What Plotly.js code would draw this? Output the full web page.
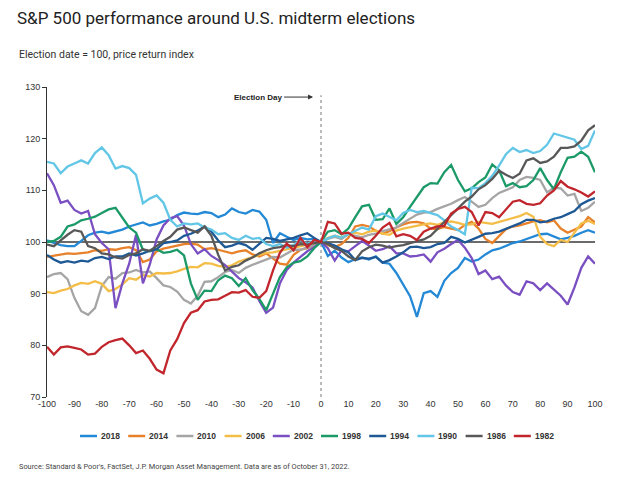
<!DOCTYPE html>
<html><head><meta charset="utf-8">
<script src="https://cdn.plot.ly/plotly-3.0.1.min.js"></script>
<style>html,body{margin:0;padding:0;background:#fff;} #chart{width:630px;height:481px;}</style>
</head><body><div id="chart"></div>
<script>
// Trading days relative to election day
const days = [-100,-97.5,-95,-92.5,-90,-87.5,-85,-82.5,-80,-77.5,-75,-72.5,-70,-67.5,-65,-62.5,-60,-57.5,-55,-52.5,-50,-47.5,-45,-42.5,-40,-37.5,-35,-32.5,-30,-27.5,-25,-22.5,-20,-17.5,-15,-12.5,-10,-7.5,-5,-2.5,0,
  2.5,5,7.5,10,12.5,15,17.5,20,22.5,25,27.5,30,32.5,35,37.5,40,42.5,45,47.5,50,52.5,55,57.5,60,62.5,65,67.5,70,72.5,75,77.5,80,82.5,85,87.5,90,92.5,95,97.5,100];

const years = ['2018','2014','2010','2006','2002','1998','1994','1990','1986','1982'];
const colors = ['#2389D6','#E8822A','#A5A5A5','#F4BD48','#7A4FC1','#1B9A68','#1E5996','#62C6E6','#585858','#C1262C'];

const s2018 = [100.3,99.8,99.4,99.2,99.2,100.2,101.3,101.8,102,101.7,102,102.4,103,103.4,103.8,103.2,103.5,104,104.3,105.2,105.7,105.5,105.4,105.8,105.6,104.8,105.3,106.5,105.8,105.5,106.2,105.9,104.3,99.8,101.7,101,100.4,100.8,100.5,100.6,100,
  97.3,98.3,97,96.1,96.7,97,96.6,97.2,96,95.8,94,91.8,89.5,85.5,90.1,90.5,89.4,92.5,94,95,96.9,96.2,96.6,97.6,98.4,98.7,99.2,99.8,100.1,100.6,101,101.5,101.6,101,100.5,100.8,101.2,101.8,102.3,101.8];
const s2014 = [97.1,97.3,97.5,97.8,97.7,97.9,98,98.4,98.3,98.6,98.5,98.8,99,98.4,96.1,96.6,98.2,98.7,99,99.2,99.6,99.7,99.5,98.6,98.8,98.5,98.2,97.8,98.2,98.4,97.6,97.2,97.8,96.8,95.8,95.6,97.5,98.5,98.8,99.4,100,
  99.4,99,99.6,100.8,103,103.3,103,102.2,101.6,102.1,102.8,103.4,103.8,103.9,103.6,102.6,102.5,102.9,102.6,102.3,103.3,103.9,102.6,100.6,99.8,101.2,102.5,103,103.2,103.6,104,104.2,103.8,104.2,102.6,101.8,102.4,103,104.8,103.8];
const s2010 = [93.2,93.8,94,92.8,89.2,86.6,85.9,87.2,91.5,93.2,92.9,94,94.1,94.6,94.1,94.3,93,91.6,91.3,90.4,88.8,88.1,89.6,92.3,92.4,93.2,94.2,94.6,94,95,95.6,96.1,96.5,97.1,97,97.8,98.5,98.5,98.9,99.4,100,
  100.6,101,100.6,101.5,101.2,100.9,101.4,101.6,102.1,102.5,102.8,103.7,104.5,105.3,105.7,105.8,106.4,106.9,107.4,108.1,108.7,107.8,106.8,107.2,108.5,109.5,110,110.6,112,112.6,112.4,112,109.6,110.5,110.4,109,109.3,106,106.6,107.8];
const s2006 = [90.3,90.1,90.6,90.9,91.6,92.1,91.9,92.4,91.9,90.5,90.9,91.8,93,92.7,93.6,93.3,94,93.9,94,94.3,94.8,95.2,95.1,95.9,95.8,95.4,95.2,95.5,96.2,96.7,97.1,97.5,97.9,98,98.3,98.7,99,99.2,99.6,99.8,100,
  100.8,101.2,100.9,101.4,101.8,101.5,102,102.2,101.6,101.4,102.2,102.6,102.9,103.1,103.4,103.6,103.3,103.8,104,103.7,103.3,103.4,103.9,103.7,103.5,103.9,104.3,104.6,105,105.6,104.9,101,99.6,99.2,100.4,100,101.9,103.6,104.1,103.5];
const s2002 = [113.3,111,107.6,108,106.2,105.5,106,101.5,99.8,98.6,87.2,92,95.8,101.4,92,95.6,100.5,103.2,104.6,105,103.2,99.6,97.8,98.6,97.3,96.5,95.5,94.2,93,92.2,91.2,88.6,86.3,87.3,92,94.6,96,97.1,98.2,99,100,
  98.8,96.4,98.4,98.2,99.2,100.2,99.3,98.3,98.6,99.2,97.8,97.8,97.2,97.3,97.6,96.2,98,98.7,99.6,100.4,98.9,96.9,93.8,94.5,92.8,93.3,91.6,90.3,89.8,92.4,92,90.7,92,90.8,89.6,87.9,91.2,95,97.2,95.8];
const s1998 = [100,100.2,101,103,103.4,104.2,104.5,104.9,105.6,106.3,106.6,104.6,102.8,101.8,98.5,98.2,98.6,97.9,98.1,98.5,97.4,92,88.8,90.6,90.5,92.6,93.5,93,91.5,93,90.7,89,86.8,90,93.2,95.1,96,96.3,97.2,98.8,100,
  102,102.3,101.5,102.6,104.8,106.9,107.2,104.3,104.4,106.5,103.5,104.8,106.8,108.7,110.6,111.4,111.3,113.5,114.9,112,109.8,110.4,111.6,112.5,115,113.9,110.8,111.4,110.6,110.8,112,114.3,112,110.2,113.5,116.3,116.5,117.5,116.5,113.5];
const s1994 = [97.5,96.6,96,96.3,96,96.4,96.2,96.9,97.1,96.7,97.2,97.2,97.8,97.4,97.8,98.3,98.6,99.8,100,100.3,101.2,101.6,102.2,103,102,100.3,99,99.3,99.8,99.4,98.5,99.6,100.8,100.6,100.2,100.5,100.8,101.3,101.7,100.8,100,
  99.8,99.3,98.6,98,96.5,96.9,96.8,97.1,96,96.5,97.2,98,99,99.1,98.8,99,99.6,99.8,101,100.6,99.9,100.4,101,101.6,101.7,102,102.5,103,103.6,104.3,104.3,103.8,104,104.5,104.8,105.4,106,107.3,108,108.5];
const s1990 = [115.5,115.2,113.3,114.6,115.2,115.8,115.2,117.2,118.3,116.8,114.2,114.7,114.3,113,107.5,108.4,109,107.6,104.3,103,103.6,103.4,103.6,102.8,102.4,101.5,101.7,100.8,100.4,101.2,100.6,100.8,99.6,99.2,99.6,98.9,99.4,100.4,99.6,100.2,100,
  100.7,101.2,100.8,101.5,102.2,102.8,102.4,105,105.5,104.8,104.2,105.6,106.2,105.8,106,105.6,105.2,104.2,103,102.3,101.5,110.5,110.4,111.4,112.8,114.8,117,118.2,117.4,117.8,117.2,117.6,118.8,121,120.6,120.3,119.8,118,118.6,121.6];
const s1986 = [99.5,99.2,100.3,101.4,102.3,102,99.2,98.8,97.8,97.6,97,96.8,97.5,97.8,98.6,98.3,99.2,100.2,101,102.4,102.8,102.3,101.8,103,101.2,97.5,94.5,95.2,95.5,96.4,97,97.8,98.4,98.8,99,99.4,99.2,99.6,99.5,99.8,100,
  99.6,98.8,98.3,97.2,96.5,98.2,99,99.5,99.3,98.9,99.2,99.4,99.8,100.1,100.5,101.2,102.6,104,105.2,106.5,107.8,108.8,110.2,111,112.2,113.8,113,112.4,113.2,115.8,116.2,115.3,115.6,116.5,118.2,118.2,118.5,119.6,121.6,122.6];
const s1982 = [79.7,78.2,79.6,79.8,79.5,79.2,78.2,78.4,79.7,80.6,81,81.3,80,78.5,79,77.4,75.3,74.6,79,81.2,84.3,86.3,86.8,88.5,88.8,88.9,89.6,90.3,90.2,90.7,89.4,89.2,90.5,94.5,97.9,99.7,98.4,100.8,99,100.4,100,
  103.9,103.6,101.6,101.8,100.8,100.6,99.8,101.2,102.8,103.7,101.1,101.5,101.2,100.4,102,102.6,103,103.1,105.5,106.4,106.8,105.8,103.2,105.8,105.6,104.8,106.4,107.8,108.1,107.4,107.2,107.5,109,110,111.8,110.7,110.2,109.6,108.8,109.8];

const series = [s2018,s2014,s2010,s2006,s2002,s1998,s1994,s1990,s1986,s1982];

const xTicks = [-100,-90,-80,-70,-60,-50,-40,-30,-20,-10,0,10,20,30,40,50,60,70,80,90,100];
const yTicks = [70,80,90,100,110,120,130];

const traces = series.map((vals, i) => ({
  type: 'scatter', mode: 'lines', name: years[i],
  x: days, y: vals,
  line: {color: colors[i], width: 2.3},
  showlegend: false, hoverinfo: 'skip'
}));

// plot geometry (pixels)
const W = 630, H = 481, L = 47, R = 35, T = 87, B = 84;
const pw = W - L - R, ph = H - T - B;
const px2paperX = p => (p - L) / pw;
const px2paperY = p => (H - B - p) / ph;

const shapes = [
  {type:'line', xref:'x', yref:'y', x0: xTicks[0], x1: xTicks[xTicks.length-1], y0: 100, y1: 100,
   line:{color:'#3a3a3a', width:1.3}, layer:'below'},
  {type:'line', xref:'x', yref:'y', x0: 0, x1: 0, y0: 70, y1: 128.4,
   line:{color:'#777', width:1, dash:'dot'}, layer:'below'}
];
const annotations = [
  {xref:'paper', yref:'paper', x: px2paperX(17), y: px2paperY(55), xanchor:'left', yanchor:'middle',
   text:'Election date = 100, price return index', showarrow:false,
   font:{family:'Roboto, sans-serif', size:10.5, color:'#333'}},
  {xref:'paper', yref:'paper', x: px2paperX(17), y: px2paperY(466), xanchor:'left', yanchor:'middle',
   text:"Source: Standard & Poor's, FactSet, J.P. Morgan Asset Management. Data are as of October 31, 2022.", showarrow:false,
   font:{family:'Roboto, sans-serif', size:7.4, color:'#444'}},
  {xref:'x', yref:'y', x: -2.9, y: 128.05, ax: -55, ay: 0, axref:'pixel', ayref:'pixel',
   text:'<b>Election Day</b>', showarrow:true, arrowhead:2, arrowsize:1, arrowwidth:1, arrowcolor:'#333',
   font:{family:'Liberation Sans, Arial, sans-serif', size:8, color:'#222'}}
];

// custom legend row
years.forEach((yr, i) => {
  const x0 = 80 + 48.2 * i;
  shapes.push({type:'line', xref:'paper', yref:'paper',
    x0: px2paperX(x0), x1: px2paperX(x0 + 17), y0: px2paperY(436), y1: px2paperY(436),
    line:{color: colors[i], width: 2.5}});
  annotations.push({xref:'paper', yref:'paper', x: px2paperX(x0 + 19), y: px2paperY(436),
    xanchor:'left', yanchor:'middle', text:'<b>' + yr + '</b>', showarrow:false,
    font:{family:'Liberation Sans, Arial, sans-serif', size:8.5, color:'#333'}});
});

const layout = {
  width: W, height: H,
  margin: {l: L, r: R, t: T, b: B, pad: 0},
  paper_bgcolor: '#fff', plot_bgcolor: '#fff',
  title: {text: 'S&P 500 performance around U.S. midterm elections',
    x: 17 / W, xref: 'container', xanchor: 'left', y: 1 - 18 / H, yref: 'container', yanchor: 'middle',
    font: {family: 'Roboto, sans-serif', size: 17, color: '#222'}},
  xaxis: {range: [-100, 100], tickvals: xTicks, ticktext: xTicks.map(String),
    showline: false, showgrid: false, zeroline: false, ticks: '',
    tickfont: {family: 'Liberation Sans, Arial, sans-serif', size: 9, color: '#333'}},
  yaxis: {range: [70, 130], tickvals: yTicks, ticktext: yTicks.map(String),
    showline: true, linecolor: '#333', linewidth: 1, ticks: 'outside', ticklen: 4, tickcolor: '#333',
    showgrid: false, zeroline: false,
    tickfont: {family: 'Liberation Sans, Arial, sans-serif', size: 9, color: '#333'}},
  showlegend: false,
  shapes: shapes,
  annotations: annotations
};

Plotly.newPlot('chart', traces, layout, {displayModeBar: false, staticPlot: true});
</script>
</body></html>
